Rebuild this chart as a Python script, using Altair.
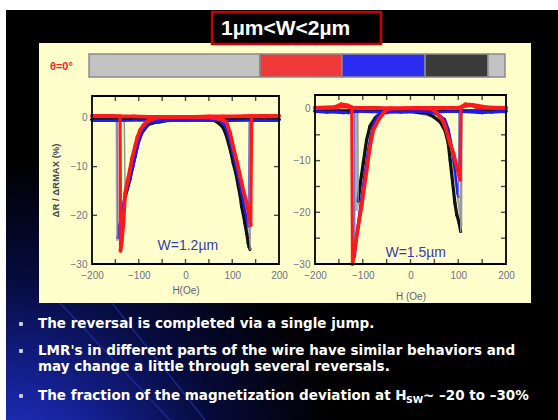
import altair as alt
import pandas as pd

CANVAS_W, CANVAS_H = 558, 420

# ---------------------------------------------------------------------------
# LMR traces (field H in Oe, change in %), listed in sweep order:
# from +200 Oe down to -200 Oe, then back up to +200 Oe.
# ---------------------------------------------------------------------------
# W = 1.2 um
h12_gray = [200, 100, 0, -60, -80, -95, -110, -122, -132, -140, -146, -147, -200,
            -100, 0, 60, 80, 95, 108, 118, 126, 132, 136.5, 137.5, 200]
r12_gray = [-0.5, -0.5, -0.5, -0.5, -1.2, -3.5, -8.0, -13.0, -18.0, -22.0, -25.0, -0.5, -0.5,
            -0.5, -0.5, -0.5, -1.8, -5.5, -10.0, -14.5, -18.5, -22.0, -24.5, -0.5, -0.5]

h12_black = [200, 150, 100, 50, 0, -33, -55, -68, -80, -94, -101, -108, -113, -119, -124, -129, -131, -150, -200,
             -150, -100, -50, 0, 40, 59, 67, 74, 81, 87, 92, 97, 102, 108, 113, 117, 120, 124, 127, 131, 134, 136, 138, 139, 160, 200]
r12_black = [-0.3, -0.3, -0.3, -0.3, -0.3, -0.4, -0.8, -1.0, -1.4, -3.1, -5.0, -7.9, -10.0, -12.7, -14.5, -16.2, -0.3, -0.3, -0.3,
             -0.3, -0.3, -0.3, -0.3, -0.3, -0.4, -0.8, -1.3, -2.1, -3.5, -5.2, -7.0, -9.3, -11.5, -14.1, -16.0, -18.2, -20.0, -21.6, -23.8, -25.7, -26.5, -27.0, -0.3, -0.3, -0.3]

h12_blue = [200, 150, 100, 50, 0, -30, -55, -76, -90, -100, -112, -120, -126, -131, -136, -141, -145, -146.5, -170, -200,
            -150, -100, -50, 0, 40, 62, 74, 84, 92, 99, 106, 112, 117, 122, 127, 131, 134, 136.5, 150, 200]
r12_blue = [-0.6, -0.5, -0.6, -0.6, -0.5, -0.6, -0.7, -1.0, -2.5, -5.0, -10.0, -12.8, -14.8, -16.5, -19.0, -22.0, -24.6, -0.5, -0.6, -0.6,
            -0.6, -0.5, -0.6, -0.6, -0.5, -0.5, -0.6, -1.5, -3.8, -6.5, -9.3, -11.8, -14.1, -16.5, -18.9, -20.8, -22.3, -0.5, -0.6, -0.6]

h12_red = [200, 170, 140, 110, 80, 50, 20, -10, -40, -62, -75, -83, -90, -97, -103, -108, -114, -119, -124, -129, -133, -136, -139, -140, -160, -200,
           -170, -140, -110, -80, -50, -20, 10, 40, 60, 72, 80, 88, 95, 102, 110, 117, 124, 131, 136, 139.5, 141.5, 160, 180, 200]
r12_red = [0.4, 0.3, 0.4, 0.3, 0.3, 0.3, 0.2, 0.2, 0.1, 0.0, -0.4, -0.8, -1.5, -2.5, -4.0, -5.9, -8.2, -10.7, -13.0, -15.5, -21.6, -25.0, -27.3, 0.3, 0.4, 0.4,
           0.4, 0.3, 0.3, 0.2, 0.2, 0.2, 0.1, 0.1, 0.0, -0.2, -0.4, -1.0, -3.0, -5.9, -9.0, -12.0, -15.0, -17.5, -20.0, -22.0, 0.3, 0.4, 0.4, 0.4]

# W = 1.5 um
h15_gray = [200, 100, 0, -70, -85, -95, -104, -110, -113, -114, -200,
            -100, 0, 70, 85, 95, 102, 106, 107, 200]
r15_gray = [-0.4, -0.4, -0.4, -1.0, -3.0, -8.0, -14.0, -18.0, -19.5, -0.4, -0.4,
            -0.4, -0.4, -2.0, -7.0, -14.0, -19.0, -22.5, -0.4, -0.4]

h15_black = [200, 150, 100, 50, 0, -40, -62, -74, -85, -92, -99, -106, -109.5, -110.5, -150, -200,
             -150, -100, -50, 0, 20, 34, 48, 62, 72, 79, 83, 86, 90, 93, 97, 102, 105, 107.5, 150, 200]
r15_black = [-0.4, -0.4, -0.4, -0.4, -0.4, -0.5, -0.8, -1.8, -3.4, -6.0, -10.5, -15.0, -17.8, -0.4, -0.4, -0.4,
             -0.4, -0.4, -0.4, -0.5, -0.7, -0.8, -1.5, -2.5, -4.1, -6.6, -9.9, -12.4, -15.7, -18.2, -20.5, -22.1, -23.7, -0.4, -0.4, -0.4]

h15_blue = [200, 170, 140, 110, 80, 50, 20, -10, -40, -60, -70, -78, -83, -89, -96, -104, -110, -114, -116.5, -117.5, -130, -150, -175, -200,
            -170, -140, -110, -80, -50, -20, 10, 40, 60, 72, 80, 86, 91, 95, 98.5, 100.5, 101.5, 120, 150, 180, 200]
r15_blue = [-0.5, -0.7, -0.4, -0.6, -0.5, -0.7, -0.5, -0.6, -0.5, -0.8, -1.5, -3.0, -5.0, -8.0, -12.5, -18.0, -22.5, -25.8, -28.6, -0.5, -0.8, -0.5, -0.7, -0.5,
            -0.6, -0.8, -0.5, -0.6, -0.5, -0.7, -0.5, -0.6, -1.2, -2.0, -4.0, -7.0, -10.5, -13.5, -16.3, -17.0, -0.5, -0.6, -0.8, -0.5, -0.6]

h15_red = [200, 160, 130, 115, 100, 70, 40, 10, -20, -45, -57, -67, -78, -85, -92, -102, -110, -116, -121.5, -123, -140, -160, -200,
           -160, -145, -132, -120, -100, -70, -40, -10, 20, 45, 55, 62, 69, 74, 79, 84, 90, 97, 104, 105.5, 115, 125, 140, 170, 200]
r15_red = [0.2, 0.3, 0.8, 0.6, 0.2, 0.2, 0.2, 0.2, 0.1, 0.1, -0.8, -2.1, -4.1, -7.3, -12.0, -18.5, -23.0, -26.7, -30.0, 0.3, 0.5, 0.3, 0.2,
           0.3, 0.9, 0.7, 0.2, 0.2, 0.2, 0.1, 0.1, 0.1, 0.0, -0.8, -1.5, -2.5, -3.8, -5.4, -7.0, -8.6, -11.2, -13.7, 0.3, 0.9, 0.8, 0.3, 0.2, 0.2]

# Wire segments along the strip (fraction of the wire length) and their colours
strip_edges = [0.0, 0.411, 0.608, 0.808, 0.959, 1.0]
strip_colors = ["#c2c2c2", "#f03a3a", "#2c2cf2", "#3a3a3a", "#c2c2c2"]

# Axis ticks
x_label_values = [-200, -100, 0, 100, 200]
x_tick_values = [-150, -100, -50, 0, 50, 100, 150]
y_label_values = [0, -10, -20, -30]
y_ticks_12 = [-10, -20]
y_ticks_15 = [-5, -10, -15, -20, -25]

# Texts
slide_title = "1µm<W<2µm"
angle_label = "θ=0°"
bullet_1 = "The reversal is completed via a single jump."
bullet_2a = "LMR's in different parts of the wire have similar behaviors and"
bullet_2b = "may change a little through several reversals."
bullet_3a = "The fraction of the magnetization deviation at H"
bullet_3sub = "SW"
bullet_3b = "~ –20 to –30%"

# stroke colour / width for each trace, and for its switching jump
TRACE_STYLE = {
    "gray": ("#a6a6a6", 2.6, "#b4b4b4", 2.6),
    "black": ("#111111", 3.2, "#8e8e96", 1.4),
    "blue": ("#1c1cf5", 2.4, "#7272e0", 1.4),
    "red": ("#ff1a1a", 3.8, "#ff1a1a", 3.2),
}

ONE = pd.DataFrame({"k": [0]})
LABEL_FONT = "Liberation Sans"


def box(x1, x2, y1, y2, **mark):
    return alt.Chart(ONE).mark_rect(**mark).encode(
        x=alt.value(x1), x2=alt.value(x2), y=alt.value(y1), y2=alt.value(y2))


def label(s, x, y, **mark):
    return alt.Chart(ONE).mark_text(text=s, **mark).encode(x=alt.value(x), y=alt.value(y))


def hysteresis_panel(series, x_range, y_top, y_range, y_ticks, x_title, x_title_pad,
                     y_title, note, note_at):
    xs = alt.Scale(domain=[-200, 200], range=x_range, nice=False, zero=False)
    ys = alt.Scale(domain=[-30, y_top], range=y_range, nice=False, zero=False)

    rows = []
    for name, h, r in series:
        col, wid, jcol, jwid = TRACE_STYLE[name]
        for i in range(len(h) - 1):
            jump = abs(r[i + 1] - r[i]) > 10 and abs(h[i + 1] - h[i]) <= 2.5
            rows.append({"h1": h[i], "r1": r[i], "h2": h[i + 1], "r2": r[i + 1],
                         "c": jcol if jump else col, "w": jwid if jump else wid})
    traces = alt.Chart(pd.DataFrame(rows)).mark_rule(strokeCap="round").encode(
        x=alt.X("h1:Q", scale=xs, axis=None), x2="h2",
        y=alt.Y("r1:Q", scale=ys, axis=None), y2="r2",
        color=alt.Color("c:N", scale=None),
        strokeWidth=alt.StrokeWidth("w:Q", scale=None),
    )

    x_axis = alt.Axis(orient="bottom", offset=-(CANVAS_H - y_range[0]), values=x_label_values,
                      ticks=False, domain=False, grid=False, labelFlush=False,
                      labelFont=LABEL_FONT, labelFontSize=10, labelColor="#707088", labelPadding=6,
                      titleFont=LABEL_FONT, titleFontSize=10, titleFontWeight="normal",
                      titleColor="#5e5e74", titlePadding=x_title_pad, zindex=1)
    y_axis = alt.Axis(orient="left", offset=-x_range[0], values=y_label_values,
                      ticks=False, domain=False, grid=False, labelFlush=False,
                      labelFont=LABEL_FONT, labelFontSize=10, labelColor="#707088", labelPadding=5,
                      titleFont=LABEL_FONT, titleFontSize=9.5, titleFontWeight="bold",
                      titleColor="#45454f", titlePadding=10, zindex=1)
    frame_df = pd.DataFrame({"h1": [-200], "h2": [200], "r1": [-30], "r2": [y_top]})
    frame = alt.Chart(frame_df).mark_rect(fill="transparent", stroke="black", strokeWidth=1.8).encode(
        x=alt.X("h1:Q", scale=xs, axis=x_axis, title=x_title), x2="h2",
        y=alt.Y("r1:Q", scale=ys, axis=y_axis, title=y_title), y2="r2",
    )

    tick = dict(color="black", thickness=1.4, size=5)

    def ticks(df, **mark):
        return alt.Chart(df).mark_tick(**tick, **mark).encode(
            x=alt.X("h:Q", scale=xs, axis=None), y=alt.Y("r:Q", scale=ys, axis=None))

    bottom = ticks(pd.DataFrame({"h": x_tick_values, "r": -30}), orient="vertical", yOffset=-2.5)
    top = ticks(pd.DataFrame({"h": x_tick_values, "r": y_top}), orient="vertical", yOffset=2.5)
    left = ticks(pd.DataFrame({"h": -200, "r": y_ticks}), orient="horizontal", xOffset=2.5)
    right = ticks(pd.DataFrame({"h": 200, "r": y_ticks}), orient="horizontal", xOffset=-2.5)

    note_layer = alt.Chart(pd.DataFrame({"h": [note_at[0]], "r": [note_at[1]], "t": [note]})).mark_text(
        font=LABEL_FONT, fontSize=14, color="#3b3ba8").encode(
        x=alt.X("h:Q", scale=xs, axis=None), y=alt.Y("r:Q", scale=ys, axis=None), text="t:N")

    return [traces, frame, bottom, top, left, right, note_layer]


# ---- slide background ----
slide = box(6, CANVAS_W, 10, CANVAS_H, fill="black")
glow = box(6, CANVAS_W, 10, CANVAS_H, fill=alt.RadialGradient(
    gradient="radial",
    stops=[alt.GradientStop(color="#2b3ed6", offset=0),
           alt.GradientStop(color="#16239c", offset=0.3),
           alt.GradientStop(color="#060b3c", offset=0.65),
           alt.GradientStop(color="#000000", offset=1)],
    x1=0, y1=1, x2=0, y2=1, r1=0, r2=0.6))
streaks = [
    alt.Chart(ONE).mark_rule(color="#2a3ab8", strokeWidth=1.5, opacity=0.55).encode(
        x=alt.value(x1), x2=alt.value(x2), y=alt.value(y1), y2=alt.value(y2))
    for x1, y1, x2, y2 in [(60, 303, 170, 420), (112, 303, 205, 420)]
]

panel = box(39, 531, 43, 303, fill="#ffffcc")
title_box = box(212, 381, 12, 44, fill="black", stroke="#c40000", strokeWidth=2.5)
title_text = label(slide_title, 221, 29, align="left", baseline="middle", font=LABEL_FONT,
                   fontSize=21, fontWeight="bold", color="white")
angle_text = label(angle_label, 50, 67, align="left", baseline="middle", font=LABEL_FONT,
                   fontSize=11, fontWeight="bold", color="#ff2020")

strip = alt.Chart(pd.DataFrame({"s": strip_edges[:-1], "e": strip_edges[1:], "c": strip_colors})).mark_rect(
    stroke="#8a8a8a", strokeWidth=1.5).encode(
    x=alt.X("s:Q", scale=alt.Scale(domain=[0, 1], range=[89, 505], nice=False, zero=False), axis=None),
    x2="e", y=alt.value(54), y2=alt.value(77), color=alt.Color("c:N", scale=None))

left_panel = hysteresis_panel(
    [("gray", h12_gray, r12_gray), ("black", h12_black, r12_black),
     ("blue", h12_blue, r12_blue), ("red", h12_red, r12_red)],
    x_range=[92, 279], y_top=4.5, y_range=[264, 96], y_ticks=y_ticks_12,
    x_title="H(Oe)", x_title_pad=5, y_title="ΔR / ΔRMAX (%)",
    note="W=1.2µm", note_at=(5, -26.3))
right_panel = hysteresis_panel(
    [("gray", h15_gray, r15_gray), ("black", h15_black, r15_black),
     ("blue", h15_blue, r15_blue), ("red", h15_red, r15_red)],
    x_range=[315, 506], y_top=2.7, y_range=[264, 95], y_ticks=y_ticks_15,
    x_title="H (Oe)", x_title_pad=11, y_title=None,
    note="W=1.5µm", note_at=(11, -27.9))

# ---- bullet list ----
text_style = dict(align="left", baseline="middle", font="DejaVu Sans", fontWeight="bold",
                  fontSize=13.5, color="white")
bullet_marks = alt.Chart(pd.DataFrame({"y": [324, 351, 396]})).mark_square(
    size=14, color="#d6d6e6", opacity=1).encode(x=alt.value(21), y=alt.Y("y:Q", scale=None))
bullet_texts = [
    label(bullet_1, 38, 324, **text_style),
    label(bullet_2a, 38, 351, **text_style),
    label(bullet_2b, 38, 367, **text_style),
    label(bullet_3a, 38, 396, **text_style),
    label(bullet_3sub, 406, 400, **{**text_style, "fontSize": 9.5}),
    label(bullet_3b, 423, 396, **text_style),
]

chart = alt.layer(
    slide, glow, *streaks, panel, title_box, title_text, angle_text, strip,
    *left_panel, *right_panel, bullet_marks, *bullet_texts,
).resolve_scale(
    x="independent", y="independent"
).properties(
    width=CANVAS_W, height=CANVAS_H, autosize=alt.AutoSizeParams(type="none"),
    padding=0, background="white",
).configure_view(strokeWidth=0)

chart.save("out.html", embed_options={"renderer": "svg", "actions": False})
